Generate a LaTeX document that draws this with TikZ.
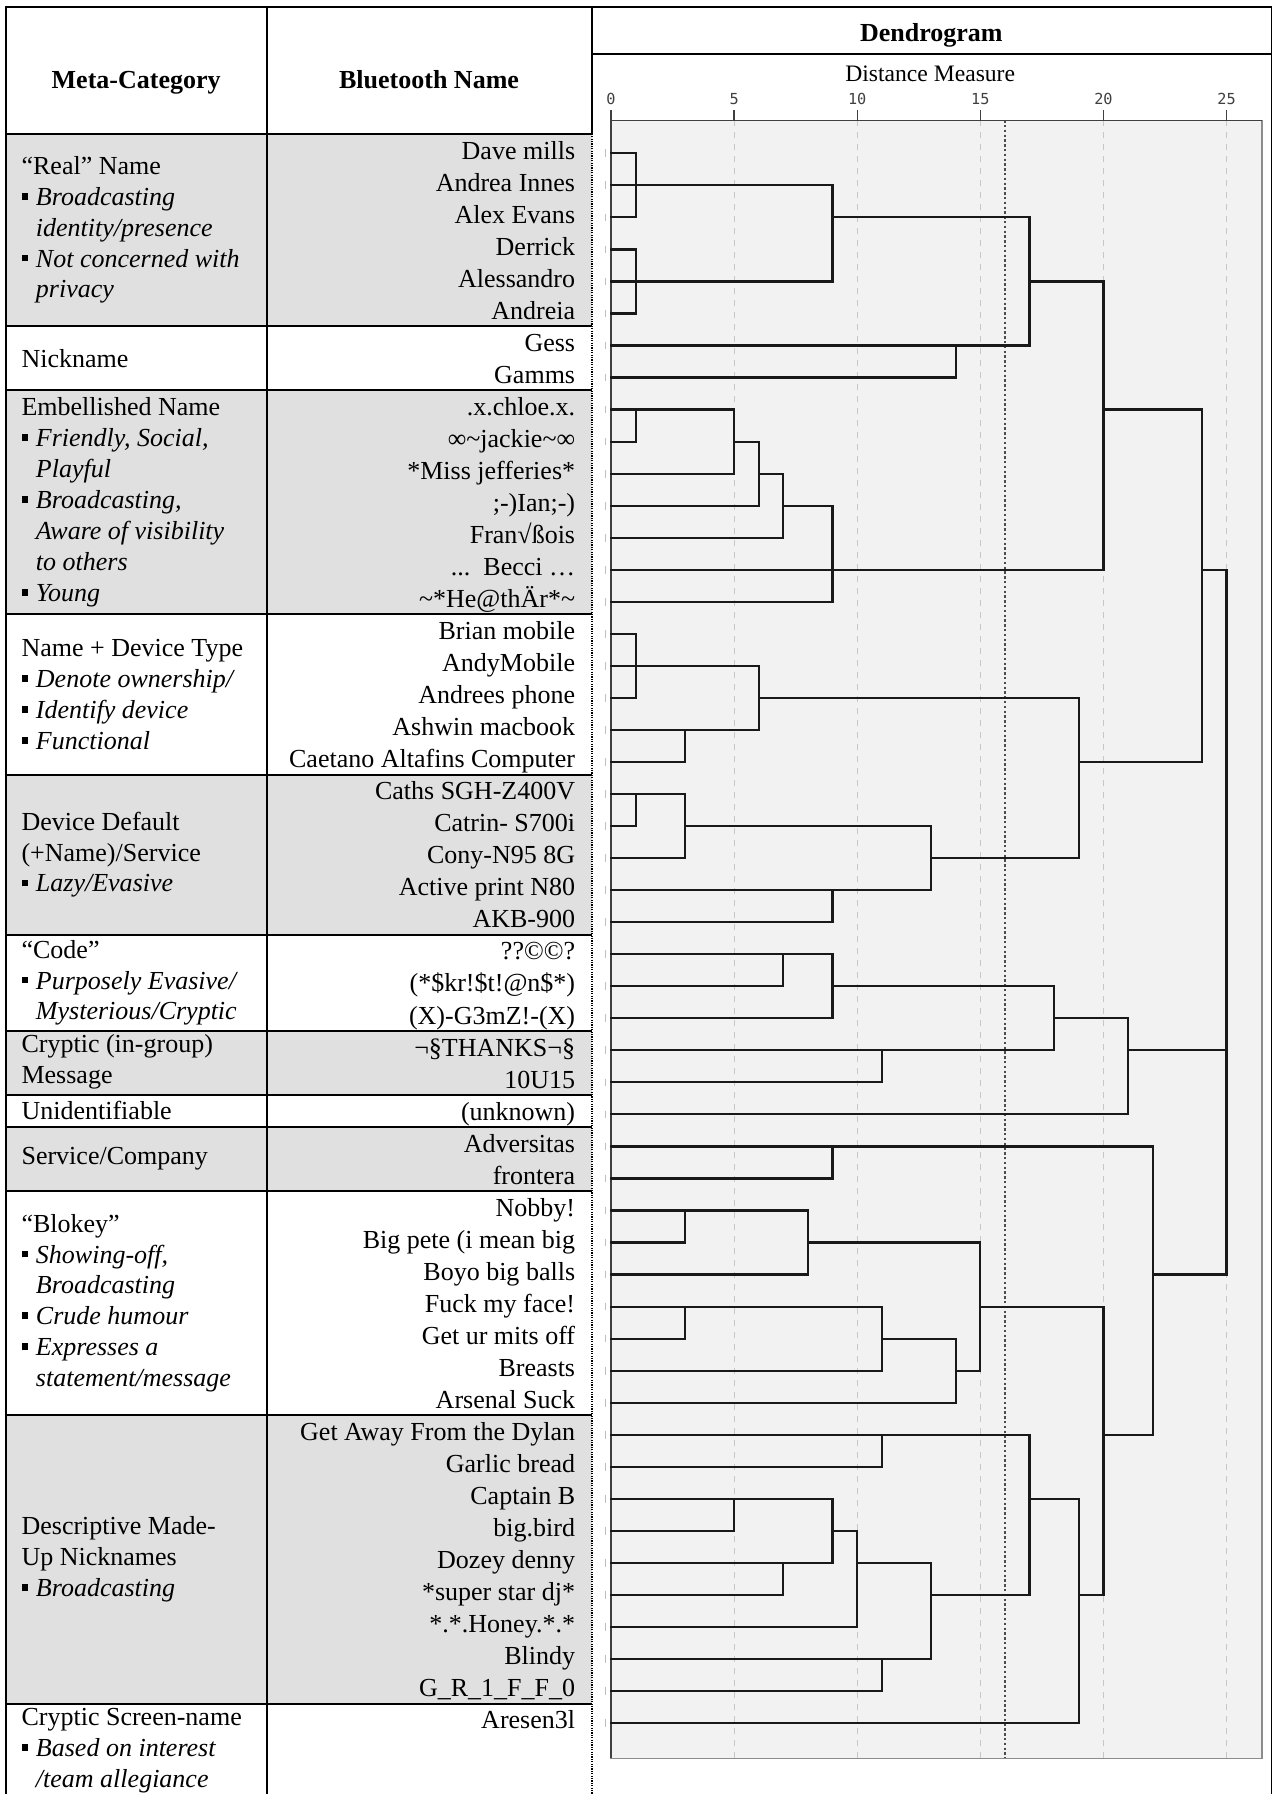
\documentclass[tikz,border=0pt]{standalone}
\usepackage{fontspec}
\setmainfont{Liberation Serif}
\newfontfamily\tickfont{DejaVu Sans Mono}
\definecolor{cellgray}{HTML}{E0E0E0}
\definecolor{panelgray}{HTML}{F2F2F2}
\newcommand\catbul[1]{\makebox[7.2pt][l]{\rule[2.8pt]{3.4pt}{3.4pt}}\textit{#1}}
\newcommand\catind[1]{\hspace*{7.2pt}\textit{#1}}
\tikzset{
  tbl/.style={line width=1pt},
  catlbl/.style={anchor=west, inner sep=0pt, align=left, font=\fontsize{13}{15.45}\selectfont},
  namelbl/.style={anchor=base east, inner sep=0pt, font=\fontsize{13}{16}\selectfont},
  headlbl/.style={anchor=base, inner sep=0pt, font=\fontsize{13}{15}\selectfont\bfseries},
  link/.style={line width=1.1pt, black!90, line cap=rect},
  gridln/.style={black!22, line width=0.5pt, dash pattern=on 3pt off 3pt},
  cutln/.style={black!70, line width=0.9pt, dash pattern=on 1.2pt off 1.2pt},
}
\begin{document}
\begin{tikzpicture}[x=0.572pt, y=-0.572pt]
\useasboundingbox (0,0) rectangle (1112,1568);

\foreach \a/\b in {0/6, 8/15, 20/25, 28/30, 31/33, 40/49}
  \fill[cellgray] (5,{117+28*\a}) rectangle (517,{117+28*\b});

\draw[tbl] (5,1568) -- (5,6) -- (1112,6);
\draw[tbl] (233,6) -- (233,1568);
\draw[tbl] (517,6) -- (517,117);
\draw[line width=1pt, dash pattern=on 0.6pt off 0.6pt] (517,117) -- (517,1568);
\draw[line width=0.6pt] (1111.5,6) -- (1111.5,1568);
\draw[tbl] (517,47) -- (1112,47);
\foreach \k in {0,6,8,15,20,25,28,30,31,33,40,49}
  \draw[tbl] (5,{117+28*\k}) -- (517,{117+28*\k});

\node[headlbl] (metahead) at (119,77) {Meta-Category};
\node[headlbl] (namehead) at (375,77) {Bluetooth Name};
\node[headlbl] (dendhead) at (814,36.5) {Dendrogram};
\node[anchor=base, inner sep=0pt, font=\fontsize{11.8}{14}\selectfont] (disthead) at (813,71.4) {Distance Measure};

\node[catlbl] (real) at (18.5,201) {“Real” Name\\\catbul{Broadcasting}\\\catind{identity/presence}\\\catbul{Not concerned with}\\\catind{privacy}};
\node[catlbl] (nick) at (18.5,313) {Nickname};
\node[catlbl] (embel) at (18.5,439) {Embellished Name\\\catbul{Friendly, Social,}\\\catind{Playful}\\\catbul{Broadcasting,}\\\catind{Aware of visibility}\\\catind{to others}\\\catbul{Young}};
\node[catlbl] (device) at (18.5,607) {Name + Device Type\\\catbul{Denote ownership/}\\\catbul{Identify device}\\\catbul{Functional}};
\node[catlbl] (default) at (18.5,747) {Device Default\\(+Name)/Service\\\catbul{Lazy/Evasive}};
\node[catlbl] (code) at (18.5,859) {“Code”\\\catbul{Purposely Evasive/}\\\catind{Mysterious/Cryptic}};
\node[catlbl] (message) at (18.5,928) {Cryptic (in-group)\\Message};
\node[catlbl] (unident) at (18.5,971) {Unidentifiable};
\node[catlbl] (service) at (18.5,1013) {Service/Company};
\node[catlbl] (blokey) at (18.5,1139) {“Blokey”\\\catbul{Showing-off,}\\\catind{Broadcasting}\\\catbul{Crude humour}\\\catbul{Expresses a}\\\catind{statement/message}};
\node[catlbl] (descr) at (18.5,1363) {Descriptive Made-\\Up Nicknames\\\catbul{Broadcasting}};
\node[catlbl] (screen) at (18.5,1530) {Cryptic Screen-name\\\catbul{Based on interest}\\\catind{/team allegiance}};

\foreach \k/\t in {0/Dave mills, 1/Andrea Innes, 2/Alex Evans, 3/Derrick, 4/Alessandro, 5/Andreia,
  6/Gess, 7/Gamms, 8/.x.chloe.x., 9/∞\textasciitilde{}jackie\textasciitilde{}∞, 10/*Miss jefferies*,
  11/;-)Ian;-), 12/Fran\char"221A\char"00DF{}ois, 13/{.}{.}{.}\enspace Becci …, 14/\textasciitilde{}*He@thÄr*\textasciitilde{},
  15/Brian mobile, 16/AndyMobile, 17/Andrees phone, 18/Ashwin macbook, 19/Caetano Altafins Computer,
  20/Caths SGH-Z400V, 21/Catrin- S700i, 22/Cony-N95 8G, 23/Active print N80, 24/AKB-900,
  25/??©©?, 26/(*\$kr!\$t!@n\$*), 27/(X)-G3mZ!-(X), 28/¬§THANKS¬§, 29/10U15, 30/(unknown),
  31/Adversitas, 32/frontera, 33/Nobby!, 34/Big pete (i mean big, 35/Boyo big balls,
  36/Fuck my face!, 37/Get ur mits off, 38/Breasts, 39/Arsenal Suck,
  40/Get Away From the Dylan, 41/Garlic bread, 42/Captain B, 43/big.bird, 44/Dozey denny,
  45/*super star dj*, 46/*.*.Honey.*.*, 47/Blindy, 48/G\_R\_1\_F\_F\_0, 49/Aresen3l}
  \node[namelbl] (n\k) at (503,{139+28*\k}) {\t};

\begin{scope}[shift={(534,134)}, x=12.31pt, y=-16.016pt]
\filldraw[fill=panelgray, draw=black!45, line width=0.6pt] (0,-1.036) rectangle (26.44,50.1);
\foreach \g in {5,10,...,25}
  \draw[gridln] (\g,-1.036) -- (\g,50.1);
\draw[cutln] (16,-1.036) -- (16,50.1);
\draw[black!75, line width=0.6pt] (0,50.1) -- (0,-1.036) -- (26.44,-1.036);
\foreach \g in {0,5,...,25} {
  \draw[black!75, line width=0.6pt] (\g,-1.036) -- (\g,-1.36);
  \node[anchor=base, inner sep=0pt, font=\tickfont\fontsize{7.6}{9}\selectfont, text=black!75] (t\g) at (\g,-1.536) {\g};
}
\foreach \k in {0,...,49}
  \draw[black!25, line width=0.4pt] (-0.22,\k-0.12) -- (-0.22,\k+0.12);

\foreach \r/\a/\b in {0/0/1, 1/0/9, 2/0/1, 2/9/17, 3/0/1, 4/0/9, 4/17/20, 5/0/1, 6/0/17, 7/0/14,
  8/0/5, 8/20/24, 9/0/1, 9/5/6, 10/0/5, 10/6/7, 11/0/6, 11/7/9, 12/0/7, 13/0/20, 13/24/25, 14/0/9,
  15/0/1, 16/0/6, 17/0/1, 17/6/19, 18/0/6, 19/0/3, 19/19/24, 20/0/3, 21/0/1, 21/3/13, 22/0/3,
  22/13/19, 23/0/13, 24/0/9, 25/0/9, 26/0/7, 26/9/18, 27/0/9, 27/18/21, 28/0/18, 28/21/25,
  29/0/11, 30/0/21, 31/0/22, 32/0/9, 33/0/8, 34/0/3, 34/8/15, 35/0/8, 35/22/25, 36/0/11,
  36/15/20, 37/0/3, 37/11/14, 38/0/11, 38/14/15, 39/0/14, 40/0/17, 40/20/22, 41/0/11,
  42/0/9, 42/17/19, 43/0/5, 43/9/10, 44/0/9, 44/10/13, 45/0/7, 45/13/17, 45/19/20,
  46/0/10, 47/0/13, 48/0/11, 49/0/19}
  \draw[link] (\a,\r) -- (\b,\r);

\foreach \d/\t/\b in {1/0/2, 1/3/5, 9/1/4, 14/6/7, 17/2/6, 20/4/13, 1/8/9, 5/8/10, 6/9/11,
  7/10/12, 9/11/14, 24/8/19, 25/13/35, 1/15/17, 3/18/19, 6/16/18, 19/17/22, 1/20/21, 3/20/22,
  9/23/24, 13/21/23, 7/25/26, 9/25/27, 11/28/29, 18/26/28, 21/27/30, 9/31/32, 22/31/40,
  3/33/34, 8/33/35, 3/36/37, 11/36/38, 14/37/39, 15/34/38, 20/36/45, 11/40/41, 5/42/43,
  7/44/45, 9/42/44, 10/43/46, 11/47/48, 13/44/47, 17/40/45, 19/42/49}
  \draw[link] (\d,\t) -- (\d,\b);
\end{scope}

\end{tikzpicture}
\end{document}
